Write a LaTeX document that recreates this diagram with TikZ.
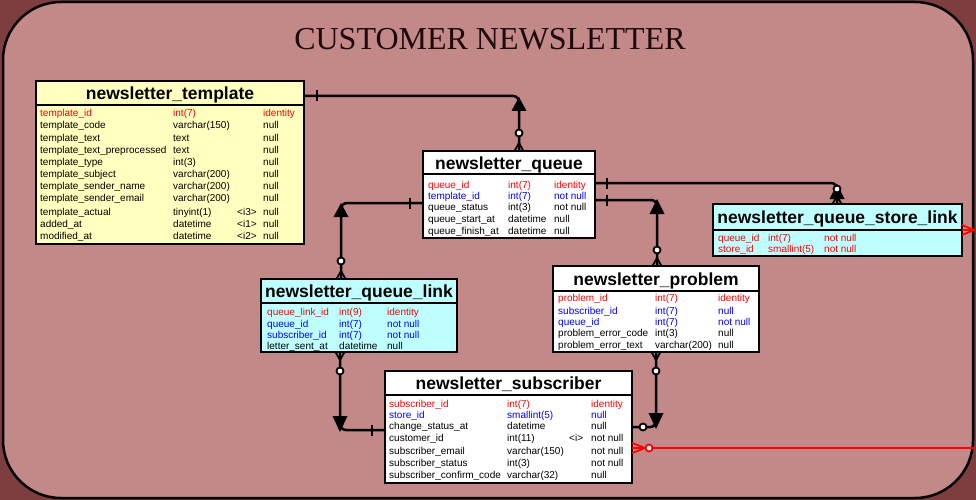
\documentclass[tikz,border=0pt]{standalone}
\usepackage{fontspec}
\setmainfont{Liberation Sans}
\newfontfamily\titlefont{Liberation Serif}
\usetikzlibrary{calc}
\definecolor{outerbg}{RGB}{126,62,64}
\definecolor{innerbg}{RGB}{195,136,136}
\definecolor{tyellow}{RGB}{255,255,192}
\definecolor{tcyan}{RGB}{192,255,255}
\definecolor{pkred}{RGB}{255,0,0}
\definecolor{fkblue}{RGB}{0,0,255}
\definecolor{titleink}{RGB}{30,10,12}
\tikzset{
 tbox/.style={draw=black, line width=2pt, anchor=north west, inner sep=0pt, outer sep=0pt},
 ttl/.style={font=\fontsize{17.5}{20}\selectfont\bfseries, inner sep=0pt},
 rowtxt/.style={font=\fontsize{10}{12}\selectfont, anchor=base west, inner sep=0pt},
 conn/.style={line width=2.5pt, rounded corners=6pt},
 redconn/.style={line width=2.5pt, draw=pkred},
}
\newcommand\trow[7]{\node[rowtxt, text=#3] (#1) at (#2) {\makebox[\wa][l]{#4}\makebox[\wb][l]{#5}\makebox[\wc][l]{#6}#7};}
\newcommand\tablebox[7]{%
 \node[tbox, fill=#6, minimum width=#3pt, minimum height=#4pt] (#1) at (#2) {};
 \draw[line width=2pt] ($(#1.north west)+(0,#5)$) -- ($(#1.north east)+(0,#5)$);
 \node[ttl, anchor=base] (#1-t) at ($(#1.north)+(0,#5/2+6.5)$) {#7};}
\newcommand\tickat[2]{\draw[line width=2pt] ($(#1)+(#2,-5.5)$) -- ($(#1)+(#2,5.5)$);}
\newcommand\tripoint[4]{\fill ($(#1)+(#2,#3)$) -- ++(-7.5,#4) -- ++(15,0) -- cycle;}
\newcommand\erdot[4]{\draw[line width=1.8pt, draw=#4, fill=white] ($(#1)+(#2,#3)$) circle[radius=3.5];}
\newcommand\crowv[3]{\draw[line width=1.8pt, #3] ($(#1)+(-4.5,0)$) -- ($(#1)+(0,#2)$) -- ($(#1)+(4.5,0)$);}
\newcommand\crowh[3]{\draw[line width=1.8pt, #3] ($(#1)+(0,-5)$) -- ($(#1)+(#2,0)$) -- ($(#1)+(0,5)$);}
\begin{document}
\begin{tikzpicture}[x=1pt,y=-1pt]
\useasboundingbox (0,0) rectangle (976,500);
\fill[outerbg] (0,0) rectangle (976,500);
\draw[fill=innerbg, line width=2.5pt, rounded corners=58pt] (3,2) rectangle (973,498);
\node[font=\titlefont\fontsize{32}{36}\selectfont, text=titleink, anchor=base, inner sep=0pt] (title) at (490,50) {CUSTOMER NEWSLETTER};

% newsletter_template
\tablebox{tmpl}{36,81}{268}{163}{24}{tyellow}{newsletter\_template}
\def\wa{133pt}\def\wb{64pt}\def\wc{26pt}
\trow{tm1}{40,117}{pkred}{template\_id}{int(7)}{}{identity}
\trow{tm2}{40,128.5}{black}{template\_code}{varchar(150)}{}{null}
\trow{tm3}{40,141}{black}{template\_text}{text}{}{null}
\trow{tm4}{40,153}{black}{template\_text\_preprocessed}{text}{}{null}
\trow{tm5}{40,165}{black}{template\_type}{int(3)}{}{null}
\trow{tm6}{40,177.5}{black}{template\_subject}{varchar(200)}{}{null}
\trow{tm7}{40,189.5}{black}{template\_sender\_name}{varchar(200)}{}{null}
\trow{tm8}{40,201.5}{black}{template\_sender\_email}{varchar(200)}{}{null}
\trow{tm9}{40,215}{black}{template\_actual}{tinyint(1)}{<i3>}{null}
\trow{tm10}{40,227}{black}{added\_at}{datetime}{<i1>}{null}
\trow{tm11}{40,239}{black}{modified\_at}{datetime}{<i2>}{null}

% newsletter_queue
\tablebox{q}{423,151}{172}{87}{23}{white}{newsletter\_queue}
\def\wa{80pt}\def\wb{46pt}\def\wc{0pt}
\trow{qu1}{428,188}{pkred}{queue\_id}{int(7)}{}{identity}
\trow{qu2}{428,199}{fkblue}{template\_id}{int(7)}{}{not null}
\trow{qu3}{428,210.5}{black}{queue\_status}{int(3)}{}{not null}
\trow{qu4}{428,222}{black}{queue\_start\_at}{datetime}{}{null}
\trow{qu5}{428,234}{black}{queue\_finish\_at}{datetime}{}{null}

% newsletter_queue_store_link
\tablebox{sl}{713,204}{249}{52}{26}{tcyan}{newsletter\_queue\_store\_link}
\def\wa{50pt}\def\wb{56pt}\def\wc{0pt}
\trow{sl1}{718,241.5}{pkred}{queue\_id}{int(7)}{}{not null}
\trow{sl2}{718,252.5}{pkred}{store\_id}{smallint(5)}{}{not null}

% newsletter_queue_link
\tablebox{ql}{261,279}{196}{73}{24}{tcyan}{newsletter\_queue\_link}
\def\wa{72pt}\def\wb{48pt}\def\wc{0pt}
\trow{ql1}{267,315}{pkred}{queue\_link\_id}{int(9)}{}{identity}
\trow{ql2}{267,327}{fkblue}{queue\_id}{int(7)}{}{not null}
\trow{ql3}{267,338}{fkblue}{subscriber\_id}{int(7)}{}{not null}
\trow{ql4}{267,349}{black}{letter\_sent\_at}{datetime}{}{null}

% newsletter_problem
\tablebox{pr}{553,266}{206}{86}{25}{white}{newsletter\_problem}
\def\wa{97pt}\def\wb{63pt}\def\wc{0pt}
\trow{pr1}{558,301.5}{pkred}{problem\_id}{int(7)}{}{identity}
\trow{pr2}{558,314}{fkblue}{subscriber\_id}{int(7)}{}{null}
\trow{pr3}{558,325.5}{fkblue}{queue\_id}{int(7)}{}{not null}
\trow{pr4}{558,336.5}{black}{problem\_error\_code}{int(3)}{}{null}
\trow{pr5}{558,348}{black}{problem\_error\_text}{varchar(200)}{}{null}

% newsletter_subscriber
\tablebox{sub}{385,371}{247}{112}{24}{white}{newsletter\_subscriber}
\def\wa{118pt}\def\wb{62pt}\def\wc{22pt}
\trow{su1}{389,407.5}{pkred}{subscriber\_id}{int(7)}{}{identity}
\trow{su2}{389,418.5}{fkblue}{store\_id}{smallint(5)}{}{null}
\trow{su3}{389,429.5}{black}{change\_status\_at}{datetime}{}{null}
\trow{su4}{389,441}{black}{customer\_id}{int(11)}{<i>}{not null}
\trow{su5}{389,454}{black}{subscriber\_email}{varchar(150)}{}{not null}
\trow{su6}{389,466.5}{black}{subscriber\_status}{int(3)}{}{not null}
\trow{su7}{389,478}{black}{subscriber\_confirm\_code}{varchar(32)}{}{null}

% template -> queue
\coordinate (a1) at ($(tmpl.north east)+(0,15)$);
\coordinate (a2) at ($(q.north west)+(96,0)$);
\coordinate (a3) at (a2 |- a1);
\draw[conn] (a1) -| (a2);
\tickat{a1}{13}
\tripoint{a3}{0}{1}{14}
\erdot{a2}{0}{-18}{black}
\crowv{a2}{-8}{black}

% queue -> queue_link
\coordinate (b1) at ($(q.north west)+(0,52)$);
\coordinate (b2) at ($(ql.north west)+(80,0)$);
\coordinate (b3) at (b2 |- b1);
\draw[conn] (b1) -| (b2);
\tickat{b1}{-13}
\tripoint{b3}{0}{0}{14}
\erdot{b2}{0}{-18}{black}
\crowv{b2}{-8}{black}

% queue -> queue_store_link
\coordinate (c1) at ($(q.north east)+(0,32)$);
\coordinate (c2) at ($(sl.north west)+(124,0)$);
\coordinate (c3) at (c2 |- c1);
\draw[conn] (c1) -| (c2);
\tickat{c1}{12}
\tripoint{c3}{0}{1}{15}
\crowv{c2}{-8}{black}
\erdot{c2}{0}{-15}{black}

% queue -> problem
\coordinate (d1) at ($(q.north east)+(0,49)$);
\coordinate (d2) at ($(pr.north west)+(104,0)$);
\coordinate (d3) at (d2 |- d1);
\draw[conn] (d1) -| (d2);
\tickat{d1}{12}
\tripoint{d3}{0}{-1}{15}
\erdot{d2}{0}{-16}{black}
\crowv{d2}{-8}{black}

% queue_link -> subscriber
\coordinate (e1) at ($(ql.south west)+(79,0)$);
\coordinate (e2) at ($(sub.north west)+(0,59)$);
\coordinate (e3) at (e1 |- e2);
\draw[conn] (e1) |- (e2);
\crowv{e1}{8}{black}
\erdot{e1}{0}{19}{black}
\tripoint{e3}{0}{2}{-16}
\tickat{e2}{-13}

% problem -> subscriber
\coordinate (f1) at ($(pr.south west)+(103,0)$);
\coordinate (f2) at ($(sub.north east)+(0,56)$);
\coordinate (f3) at (f1 |- f2);
\draw[conn] (f1) |- (f2);
\crowv{f1}{8}{black}
\erdot{f1}{0}{19}{black}
\tripoint{f3}{0}{2}{-16}
\erdot{f2}{11}{0}{black}

% subscriber -> outside (red)
\coordinate (g1) at ($(sub.north east)+(0,77)$);
\coordinate (g2) at (976,448);
\draw[redconn] (g1) -- (g2);
\crowh{g1}{13}{pkred}
\erdot{g1}{17}{0}{pkred}

% queue_store_link -> outside (red)
\coordinate (h1) at ($(sl.north east)+(0,26)$);
\coordinate (h2) at (976,230);
\draw[redconn] (h1) -- (h2);
\crowh{h1}{12}{pkred}
\end{tikzpicture}
\end{document}
